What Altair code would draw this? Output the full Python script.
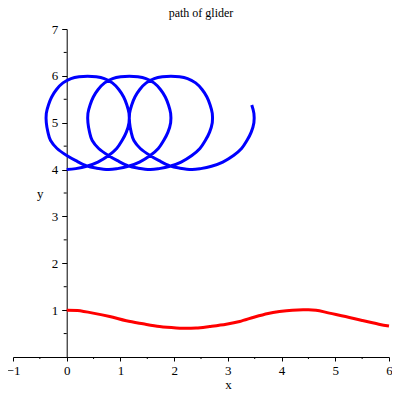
import altair as alt
import pandas as pd

# ---- data ----
blue_x = [
    0.000, 0.170, 0.370, 0.580, 0.780, 0.930, 1.030, 1.110, 1.160, 1.160, 1.120, 1.060, 0.970, 0.850, 0.700, 0.550,
    0.390, 0.230, 0.080, -0.070, -0.190, -0.280, -0.340, -0.380, -0.380, -0.350, -0.300, -0.180, 0.000, 0.170, 0.370, 0.560,
    0.775, 0.945, 1.145, 1.355, 1.555, 1.705, 1.805, 1.885, 1.935, 1.935, 1.895, 1.835, 1.745, 1.625, 1.475, 1.325,
    1.165, 1.005, 0.855, 0.705, 0.585, 0.495, 0.435, 0.395, 0.395, 0.425, 0.475, 0.595, 0.775, 0.945, 1.145, 1.335,
    1.550, 1.720, 1.920, 2.130, 2.330, 2.480, 2.580, 2.660, 2.710, 2.710, 2.670, 2.610, 2.520, 2.400, 2.250, 2.100,
    1.940, 1.780, 1.630, 1.480, 1.360, 1.270, 1.210, 1.170, 1.170, 1.200, 1.250, 1.370, 1.550, 1.720, 1.920, 2.110,
    2.325, 2.495, 2.695, 2.905, 3.105, 3.255, 3.355, 3.435, 3.485, 3.485, 3.445,
]
blue_y = [
    4.00, 4.02, 4.07, 4.16, 4.30, 4.45, 4.62, 4.80, 5.00, 5.20, 5.38, 5.55, 5.71, 5.85, 5.94, 5.98,
    5.99, 5.98, 5.94, 5.85, 5.71, 5.55, 5.38, 5.20, 5.00, 4.80, 4.62, 4.45, 4.30, 4.19, 4.08, 4.03,
    4.00, 4.02, 4.07, 4.16, 4.30, 4.45, 4.62, 4.80, 5.00, 5.20, 5.38, 5.55, 5.71, 5.85, 5.94, 5.98,
    5.99, 5.98, 5.94, 5.85, 5.71, 5.55, 5.38, 5.20, 5.00, 4.80, 4.62, 4.45, 4.30, 4.19, 4.08, 4.03,
    4.00, 4.02, 4.07, 4.16, 4.30, 4.45, 4.62, 4.80, 5.00, 5.20, 5.38, 5.55, 5.71, 5.85, 5.94, 5.98,
    5.99, 5.98, 5.94, 5.85, 5.71, 5.55, 5.38, 5.20, 5.00, 4.80, 4.62, 4.45, 4.30, 4.19, 4.08, 4.03,
    4.00, 4.02, 4.07, 4.16, 4.30, 4.45, 4.62, 4.80, 5.00, 5.20, 5.38,
]

red_x = [0.0, 0.2, 0.49, 0.8, 1.11, 1.42, 1.73, 2.04, 2.22, 2.41, 2.66, 2.97, 3.22, 3.5, 3.75,
         3.96, 4.2, 4.4, 4.64, 4.89, 5.19, 5.5, 5.81, 6.0]
red_y = [1.0, 0.99, 0.936, 0.864, 0.772, 0.708, 0.651, 0.62, 0.615, 0.617, 0.651, 0.70, 0.757, 0.855, 0.93,
         0.97, 1.0, 1.006, 1.0, 0.936, 0.864, 0.78, 0.70, 0.66]

x_ticks = [-1, 0, 1, 2, 3, 4, 5, 6]
y_ticks = [1, 2, 3, 4, 5, 6, 7]
x_minor = [-0.5, 0.5, 1.5, 2.5, 3.5, 4.5, 5.5]
y_minor = [0.5, 1.5, 2.5, 3.5, 4.5, 5.5, 6.5]

title_text = "path of glider"
x_title = "x"
y_title = "y"

# ---- chart ----
W, H = 376, 328
FONT = "Liberation Serif"

blue = pd.DataFrame({"x": blue_x, "y": blue_y, "i": list(range(len(blue_x)))})
red = pd.DataFrame({"x": red_x, "y": red_y, "i": list(range(len(red_x)))})
xm = pd.DataFrame({"x": x_minor})
ym = pd.DataFrame({"y": y_minor})

xscale = alt.Scale(domain=[-1, 6], nice=False, zero=False)
yscale = alt.Scale(domain=[0, 7], nice=False, zero=False)

xaxis = alt.Axis(
    values=x_ticks, format="d", grid=False, tickSize=4, tickColor="black", domainColor="black",
    labelFont=FONT, labelFontSize=13, labelColor="black", labelPadding=3,
    labelFlush=False, labelOverlap=False,
    title=x_title, titleFont=FONT, titleFontSize=13, titleFontWeight="normal", titleColor="black",
    titleX=215, titleY=31, titleBaseline="alphabetic", titleAlign="center",
)
yaxis = alt.Axis(
    values=y_ticks, format="d", grid=False, tickSize=5, tickColor="black", domainColor="black",
    offset=-53.7,
    labelFont=FONT, labelFontSize=13, labelColor="black", labelPadding=4,
    labelFlush=False, labelOverlap=False,
    title=y_title, titleFont=FONT, titleFontSize=13, titleFontWeight="normal", titleColor="black",
    titleAngle=0, titleX=-27, titleY=164, titleBaseline="middle", titleAlign="center",
)

X = alt.X("x:Q", scale=xscale, axis=xaxis)
Y = alt.Y("y:Q", scale=yscale, axis=yaxis)

blue_line = alt.Chart(blue).mark_line(color="#0000ff", strokeWidth=3, interpolate="cardinal").encode(
    x=X, y=Y, order="i:Q"
)
red_line = alt.Chart(red).mark_line(color="#ff0000", strokeWidth=3, interpolate="cardinal").encode(
    x=X, y=Y, order="i:Q"
)
x_minor_ticks = alt.Chart(xm).mark_rule(color="black", strokeWidth=1, y2Offset=2).encode(
    x=X,
    y=alt.YDatum(0, scale=yscale, axis=yaxis),
    y2=alt.Y2Datum(0),
)
y_minor_ticks = alt.Chart(ym).mark_rule(color="black", strokeWidth=1, xOffset=-3).encode(
    y=Y,
    x=alt.XDatum(0, scale=xscale, axis=xaxis),
    x2=alt.X2Datum(0),
)

chart = alt.layer(x_minor_ticks, y_minor_ticks, red_line, blue_line).properties(
    width=W, height=H,
    title=alt.TitleParams(title_text, font=FONT, fontSize=12, fontWeight="normal", color="black",
                          anchor="middle", frame="group", offset=3),
    autosize=alt.AutoSizeParams(type="none"),
    padding={"left": 5, "top": 21, "right": 3, "bottom": 34},
).configure_view(stroke=None)

chart.save("out.html", embed_options={"renderer": "svg", "actions": False})
